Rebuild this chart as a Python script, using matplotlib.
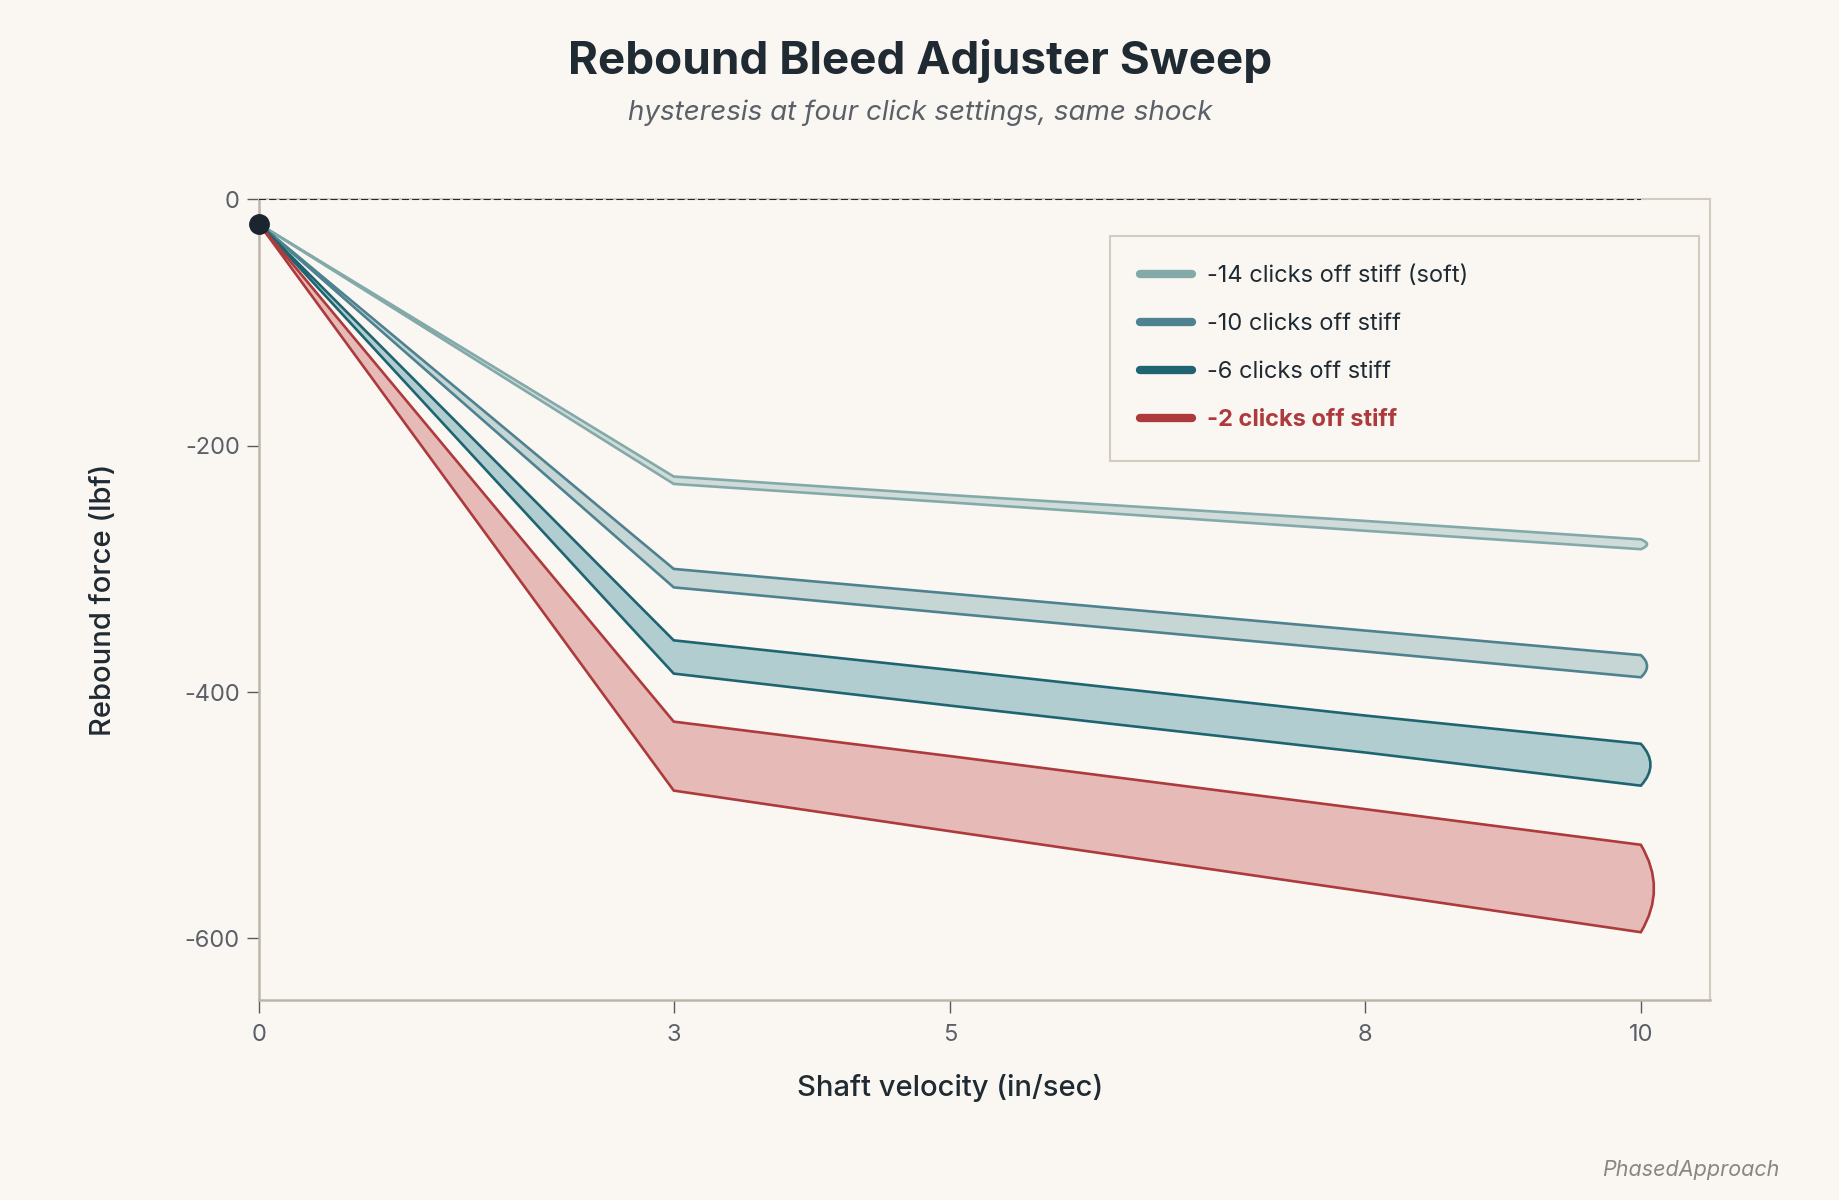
import matplotlib
matplotlib.use('Agg')
import matplotlib.pyplot as plt
from matplotlib.path import Path
from matplotlib.patches import PathPatch
from matplotlib.lines import Line2D

# shaft velocity (in/sec) and rebound force (lbf) for each click setting
velocity = [0, 3, 5, 8, 10]
labels = ['-14 clicks off stiff (soft)', '-10 clicks off stiff',
          '-6 clicks off stiff', '-2 clicks off stiff']
upper = [
    [-20, -225, -240, -261, -276],
    [-20, -300, -320, -350, -370],
    [-20, -358, -382, -419, -442],
    [-20, -424, -452, -495, -524],
]
lower = [
    [-20, -231, -246, -269, -284],
    [-20, -315, -336, -367, -388],
    [-20, -385, -411, -449, -476],
    [-20, -480, -513, -562, -595],
]
start_point = (0, -20)
xticks = [0, 3, 5, 8, 10]
yticks = [0, -200, -400, -600]

colors = ['#83a9a9', '#4f8290', '#1f6471', '#ad3a3c']
fills = ['#d0dcda', '#c6d6d5', '#b2cdcf', '#e6bab6']
cap_bulge = [0.09, 0.09, 0.14, 0.19]

BG = '#faf7f2'
DARK = '#1f2a33'
GRAY = '#5b6068'
FRAME = '#d3cbc1'

plt.rcParams['font.family'] = ['Inter', 'DejaVu Sans']

fig = plt.figure(figsize=(18.4, 12), dpi=100, facecolor=BG)
ax = fig.add_axes([0.1409, 0.1667, 0.7884, 0.6671], facecolor=BG)

for up, lo, c, f, b in zip(upper, lower, colors, fills, cap_bulge):
    # loop: out along the upper branch, round the end, back along the lower one
    verts = list(zip(velocity, up))
    codes = [Path.MOVETO] + [Path.LINETO] * (len(up) - 1)
    verts.append((velocity[-1] + b, (up[-1] + lo[-1]) / 2))
    verts.append((velocity[-1], lo[-1]))
    codes += [Path.CURVE3, Path.CURVE3]
    for x, y in list(zip(velocity, lo))[-2::-1]:
        verts.append((x, y))
        codes.append(Path.LINETO)
    path = Path(verts, codes)
    ax.add_patch(PathPatch(path, facecolor=f, edgecolor='none', zorder=2))
    ax.add_patch(PathPatch(path, facecolor='none', edgecolor=c, lw=1.9,
                           joinstyle='miter', zorder=3))

ax.plot([0, 10], [0, 0], ls=(0, (3.4, 1.5)), color=DARK, lw=1.5, zorder=4)
ax.plot(*start_point, 'o', color='#1b2530', markersize=14, zorder=5, clip_on=False)

ax.set_xlim(0, 10.5)
ax.set_ylim(-650, 0)
ax.set_xticks(xticks)
ax.set_yticks(yticks)
ax.set_xticklabels([str(v) for v in xticks])
ax.set_yticklabels([str(v) for v in yticks])
ax.tick_params(length=9, width=1, color='#555a60', labelcolor=GRAY,
               labelsize=17)
ax.tick_params(axis='x', pad=8)
ax.tick_params(axis='y', pad=5)

for side in ['top', 'right']:
    ax.spines[side].set_color(FRAME)
    ax.spines[side].set_linewidth(1.5)
for side in ['left', 'bottom']:
    ax.spines[side].set_color('#bdb5ab')
    ax.spines[side].set_linewidth(1.8)

ax.set_xlabel('Shaft velocity (in/sec)', fontsize=21, color=DARK,
              fontweight='medium')
ax.xaxis.set_label_coords(5 / 10.5, -0.092)
ax.set_ylabel('Rebound force (lbf)', fontsize=21, color=DARK,
              fontweight='medium', labelpad=48)

handles = [Line2D([0], [0], color=c, lw=6, solid_capstyle='round') for c in colors]
leg = ax.legend(handles, labels, loc='upper left',
                bbox_to_anchor=(0.5865, 0.6758, 0.406, 0.2786), mode='expand',
                fontsize=17, frameon=True, fancybox=False, facecolor=BG,
                edgecolor=FRAME, framealpha=1, handlelength=2.2,
                handletextpad=0.65, labelspacing=1.1, borderpad=1.25,
                borderaxespad=0)
leg.get_frame().set_linewidth(1.5)
leg._legend_box.align = 'left'
for t in leg.get_texts():
    t.set_color(DARK)
leg.get_texts()[-1].set_color(colors[-1])
leg.get_texts()[-1].set_fontweight('bold')

fig.text(0.5, 0.949, 'Rebound Bleed Adjuster Sweep', ha='center', va='center',
         fontsize=33, fontweight='bold', color=DARK)
fig.text(0.5, 0.906, 'hysteresis at four click settings, same shock', ha='center',
         va='center', fontsize=20, style='italic', color=GRAY)
fig.text(0.967, 0.025, 'PhasedApproach', ha='right', va='center', fontsize=15.5,
         style='italic', color='#8a8680')

fig.savefig('out.png', dpi=100, facecolor=BG)
